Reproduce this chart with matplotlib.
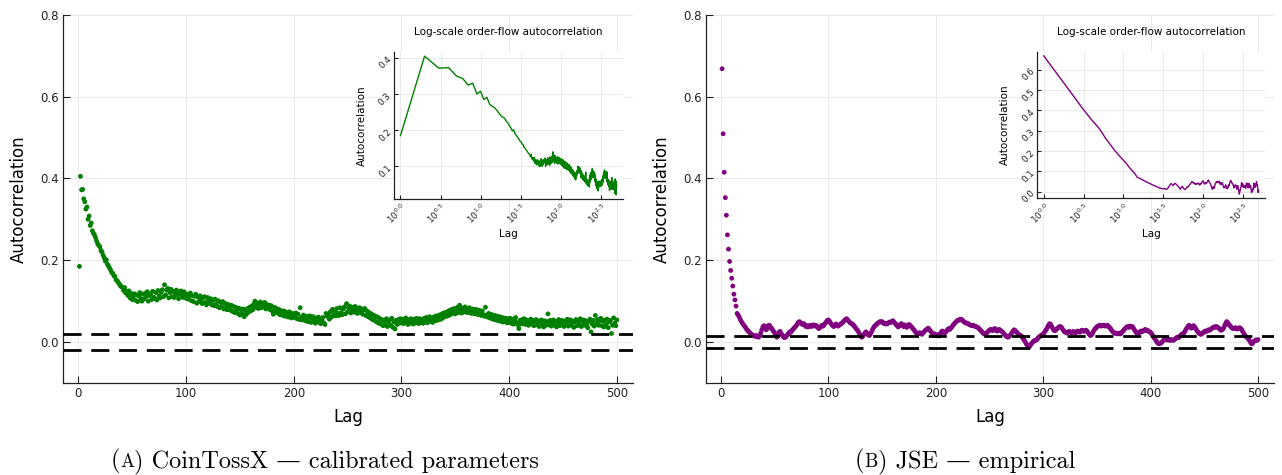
import matplotlib
matplotlib.use("Agg")
import matplotlib.pyplot as plt
import numpy as np
from matplotlib.ticker import FixedLocator, FixedFormatter, NullLocator

# ---------------------------------------------------------------------------
# Order-flow autocorrelation, lags 1..500
# ---------------------------------------------------------------------------
lags = np.arange(1, 501)

acf_cointossx = [
    0.185, 0.405, 0.372, 0.373, 0.350, 0.343, 0.325, 0.330, 0.300, 0.308, 0.285, 0.291, 0.272, 0.266, 0.262, 0.255, 0.247, 0.240, 0.236, 0.233,
    0.224, 0.220, 0.212, 0.206, 0.198, 0.201, 0.190, 0.186, 0.181, 0.176, 0.170, 0.168, 0.162, 0.160, 0.152, 0.150, 0.146, 0.142, 0.138, 0.135,
    0.134, 0.126, 0.133, 0.120, 0.124, 0.114, 0.125, 0.108, 0.119, 0.104, 0.112, 0.118, 0.102, 0.115, 0.099, 0.113, 0.121, 0.106, 0.100, 0.117,
    0.105, 0.119, 0.111, 0.123, 0.100, 0.114, 0.118, 0.104, 0.124, 0.110, 0.106, 0.121, 0.103, 0.126, 0.113, 0.108, 0.122, 0.128, 0.111, 0.140,
    0.115, 0.127, 0.131, 0.108, 0.121, 0.129, 0.111, 0.124, 0.109, 0.119, 0.127, 0.116, 0.106, 0.120, 0.125, 0.114, 0.109, 0.123, 0.118, 0.107,
    0.117, 0.105, 0.114, 0.120, 0.101, 0.113, 0.099, 0.112, 0.117, 0.095, 0.110, 0.099, 0.113, 0.103, 0.094, 0.108, 0.111, 0.097, 0.091, 0.109,
    0.104, 0.095, 0.106, 0.091, 0.102, 0.089, 0.105, 0.093, 0.087, 0.101, 0.084, 0.097, 0.087, 0.099, 0.081, 0.095, 0.085, 0.079, 0.092, 0.083,
    0.078, 0.090, 0.075, 0.087, 0.072, 0.085, 0.078, 0.070, 0.083, 0.066, 0.079, 0.069, 0.081, 0.062, 0.077, 0.068, 0.082, 0.073, 0.085, 0.076,
    0.088, 0.079, 0.093, 0.100, 0.085, 0.095, 0.082, 0.093, 0.098, 0.084, 0.094, 0.086, 0.097, 0.081, 0.092, 0.083, 0.090, 0.079, 0.089, 0.076,
    0.068, 0.085, 0.073, 0.082, 0.071, 0.080, 0.067, 0.077, 0.069, 0.065, 0.076, 0.063, 0.073, 0.066, 0.061, 0.074, 0.064, 0.059, 0.070, 0.062,
    0.060, 0.071, 0.057, 0.068, 0.055, 0.084, 0.060, 0.054, 0.066, 0.056, 0.052, 0.063, 0.050, 0.060, 0.064, 0.048, 0.058, 0.062, 0.051, 0.046,
    0.059, 0.049, 0.061, 0.053, 0.045, 0.055, 0.060, 0.047, 0.043, 0.070, 0.063, 0.068, 0.056, 0.074, 0.061, 0.080, 0.066, 0.076, 0.064, 0.082,
    0.070, 0.065, 0.084, 0.072, 0.067, 0.081, 0.086, 0.069, 0.094, 0.074, 0.083, 0.088, 0.071, 0.081, 0.085, 0.073, 0.087, 0.077, 0.070, 0.080,
    0.084, 0.072, 0.081, 0.068, 0.079, 0.082, 0.065, 0.076, 0.062, 0.072, 0.059, 0.069, 0.055, 0.066, 0.053, 0.063, 0.049, 0.061, 0.046, 0.057,
    0.044, 0.055, 0.040, 0.052, 0.042, 0.057, 0.038, 0.050, 0.054, 0.041, 0.058, 0.036, 0.049, 0.032, 0.053, 0.043, 0.055, 0.046, 0.057, 0.047,
    0.056, 0.045, 0.054, 0.059, 0.047, 0.043, 0.055, 0.046, 0.057, 0.048, 0.044, 0.056, 0.047, 0.058, 0.049, 0.045, 0.057, 0.048, 0.055, 0.046,
    0.058, 0.049, 0.060, 0.047, 0.056, 0.062, 0.050, 0.059, 0.048, 0.061, 0.052, 0.064, 0.053, 0.062, 0.066, 0.055, 0.068, 0.058, 0.071, 0.062,
    0.072, 0.063, 0.075, 0.065, 0.078, 0.068, 0.080, 0.071, 0.082, 0.069, 0.079, 0.085, 0.072, 0.090, 0.081, 0.071, 0.083, 0.074, 0.086, 0.073,
    0.082, 0.072, 0.084, 0.075, 0.070, 0.081, 0.073, 0.069, 0.080, 0.071, 0.067, 0.078, 0.069, 0.065, 0.076, 0.067, 0.063, 0.085, 0.066, 0.061,
    0.070, 0.059, 0.068, 0.057, 0.066, 0.055, 0.065, 0.054, 0.063, 0.052, 0.062, 0.051, 0.060, 0.049, 0.059, 0.050, 0.058, 0.047, 0.057, 0.048,
    0.058, 0.046, 0.056, 0.044, 0.054, 0.060, 0.047, 0.042, 0.033, 0.053, 0.044, 0.055, 0.046, 0.057, 0.043, 0.054, 0.045, 0.041, 0.052, 0.056,
    0.044, 0.053, 0.040, 0.051, 0.055, 0.042, 0.052, 0.038, 0.050, 0.054, 0.043, 0.037, 0.052, 0.041, 0.050, 0.069, 0.042, 0.053, 0.039, 0.049,
    0.054, 0.041, 0.051, 0.037, 0.048, 0.055, 0.040, 0.050, 0.053, 0.042, 0.038, 0.052, 0.043, 0.056, 0.039, 0.050, 0.054, 0.041, 0.051, 0.036,
    0.049, 0.055, 0.040, 0.052, 0.042, 0.057, 0.038, 0.050, 0.054, 0.041, 0.052, 0.043, 0.035, 0.051, 0.056, 0.025, 0.044, 0.053, 0.039, 0.065,
    0.045, 0.055, 0.041, 0.052, 0.058, 0.040, 0.051, 0.037, 0.054, 0.043, 0.056, 0.035, 0.049, 0.053, 0.021, 0.041, 0.059, 0.046, 0.040, 0.054,
]

acf_jse = [
    0.668, 0.509, 0.415, 0.353, 0.310, 0.262, 0.227, 0.197, 0.175, 0.156, 0.137, 0.117, 0.103, 0.088, 0.070, 0.066, 0.061, 0.055, 0.050, 0.046,
    0.042, 0.039, 0.035, 0.031, 0.028, 0.025, 0.022, 0.020, 0.018, 0.016, 0.015, 0.014, 0.016, 0.013, 0.012, 0.015, 0.022, 0.030, 0.037, 0.040,
    0.036, 0.030, 0.033, 0.040, 0.041, 0.037, 0.034, 0.030, 0.026, 0.022, 0.016, 0.012, 0.018, 0.024, 0.026, 0.021, 0.017, 0.013, 0.011, 0.012,
    0.015, 0.018, 0.022, 0.025, 0.024, 0.028, 0.031, 0.034, 0.037, 0.040, 0.044, 0.048, 0.050, 0.047, 0.045, 0.043, 0.045, 0.042, 0.038, 0.040,
    0.037, 0.039, 0.041, 0.038, 0.040, 0.042, 0.039, 0.041, 0.040, 0.036, 0.033, 0.035, 0.038, 0.041, 0.039, 0.042, 0.046, 0.049, 0.053, 0.054,
    0.051, 0.047, 0.043, 0.040, 0.038, 0.041, 0.044, 0.042, 0.039, 0.041, 0.043, 0.045, 0.047, 0.050, 0.053, 0.055, 0.057, 0.054, 0.051, 0.048,
    0.046, 0.044, 0.043, 0.039, 0.036, 0.032, 0.029, 0.025, 0.020, 0.015, 0.012, 0.014, 0.018, 0.022, 0.025, 0.021, 0.018, 0.016, 0.019, 0.024,
    0.030, 0.035, 0.039, 0.041, 0.044, 0.046, 0.048, 0.050, 0.049, 0.050, 0.047, 0.045, 0.046, 0.044, 0.045, 0.047, 0.049, 0.048, 0.050, 0.052,
    0.049, 0.046, 0.043, 0.040, 0.037, 0.040, 0.043, 0.045, 0.041, 0.038, 0.042, 0.039, 0.036, 0.040, 0.043, 0.041, 0.038, 0.035, 0.032, 0.029,
    0.025, 0.022, 0.020, 0.021, 0.023, 0.021, 0.019, 0.022, 0.025, 0.028, 0.030, 0.032, 0.034, 0.031, 0.027, 0.024, 0.021, 0.018, 0.020, 0.017,
    0.016, 0.018, 0.015, 0.019, 0.024, 0.027, 0.025, 0.022, 0.024, 0.027, 0.030, 0.033, 0.031, 0.034, 0.037, 0.041, 0.044, 0.047, 0.050, 0.052,
    0.053, 0.055, 0.056, 0.055, 0.053, 0.050, 0.048, 0.047, 0.046, 0.045, 0.043, 0.042, 0.041, 0.040, 0.041, 0.039, 0.038, 0.037, 0.036, 0.034,
    0.031, 0.028, 0.025, 0.022, 0.020, 0.019, 0.021, 0.024, 0.027, 0.029, 0.031, 0.030, 0.028, 0.031, 0.033, 0.030, 0.027, 0.029, 0.031, 0.029,
    0.027, 0.025, 0.022, 0.019, 0.016, 0.014, 0.012, 0.013, 0.016, 0.019, 0.023, 0.027, 0.030, 0.028, 0.025, 0.022, 0.019, 0.017, 0.016, 0.014,
    0.010, 0.006, 0.002, -0.003, -0.007, -0.010, -0.012, -0.008, -0.004, -0.001, 0.002, 0.004, 0.004, 0.006, 0.009, 0.012, 0.014, 0.016, 0.018, 0.020,
    0.023, 0.027, 0.031, 0.036, 0.041, 0.045, 0.043, 0.038, 0.033, 0.029, 0.028, 0.030, 0.033, 0.035, 0.037, 0.038, 0.036, 0.032, 0.028, 0.025,
    0.024, 0.022, 0.024, 0.026, 0.025, 0.023, 0.024, 0.026, 0.024, 0.022, 0.025, 0.027, 0.026, 0.024, 0.027, 0.029, 0.028, 0.026, 0.028, 0.029,
    0.026, 0.022, 0.019, 0.016, 0.018, 0.022, 0.027, 0.031, 0.034, 0.037, 0.039, 0.040, 0.041, 0.039, 0.040, 0.041, 0.040, 0.039, 0.040, 0.041,
    0.038, 0.035, 0.032, 0.028, 0.025, 0.023, 0.021, 0.022, 0.020, 0.021, 0.022, 0.020, 0.023, 0.026, 0.029, 0.032, 0.035, 0.037, 0.038, 0.036,
    0.039, 0.037, 0.038, 0.034, 0.030, 0.026, 0.022, 0.020, 0.022, 0.025, 0.027, 0.025, 0.027, 0.029, 0.031, 0.028, 0.029, 0.027, 0.025, 0.024,
    0.020, 0.016, 0.012, 0.008, 0.004, 0.000, -0.003, -0.004, -0.003, -0.002, 0.001, 0.004, 0.006, 0.007, 0.005, 0.008, 0.007, 0.004, 0.006, 0.005,
    0.004, 0.006, 0.008, 0.010, 0.012, 0.011, 0.013, 0.016, 0.019, 0.020, 0.022, 0.026, 0.031, 0.035, 0.039, 0.041, 0.038, 0.034, 0.036, 0.040,
    0.037, 0.033, 0.029, 0.025, 0.022, 0.020, 0.019, 0.021, 0.023, 0.025, 0.027, 0.026, 0.028, 0.030, 0.029, 0.031, 0.033, 0.035, 0.037, 0.036,
    0.038, 0.037, 0.035, 0.033, 0.030, 0.029, 0.031, 0.034, 0.040, 0.046, 0.050, 0.047, 0.043, 0.040, 0.037, 0.034, 0.033, 0.034, 0.035, 0.033,
    0.032, 0.034, 0.035, 0.033, 0.030, 0.025, 0.020, 0.016, 0.013, 0.011, 0.008, 0.004, 0.000, -0.004, -0.003, 0.001, 0.003, 0.005, 0.004, 0.006,
]

# 95% confidence bands (+/- 1.96 / sqrt(N))
conf_cointossx = 0.0196
conf_jse = 0.014

main_xticks = [0, 100, 200, 300, 400, 500]
main_yticks = [0.0, 0.2, 0.4, 0.6, 0.8]
inset_log_ticks = [0.0, 0.5, 1.0, 1.5, 2.0, 2.5]
inset_yticks_cointossx = [0.1, 0.2, 0.3, 0.4]
inset_yticks_jse = [0.0, 0.1, 0.2, 0.3, 0.4, 0.5, 0.6]

panel_colors = ["#008000", "#800080"]
caption_letters = ["A", "B"]
caption_texts = ["CoinTossX \u2014 calibrated parameters", "JSE \u2014 empirical"]

GRID = "#e6e6e6"
W, H = 1282, 475

fig = plt.figure(figsize=(W / 100, H / 100), dpi=100)
fig.patch.set_facecolor("white")


def px_rect(x0, y0, x1, y1):
    """Convert a pixel box (top-left origin) to figure-fraction rect."""
    return [x0 / W, 1 - y1 / H, (x1 - x0) / W, (y1 - y0) / H]


def style_axes(ax, tick_size, tick_len):
    for side in ("top", "right"):
        ax.spines[side].set_visible(False)
    for side in ("left", "bottom"):
        ax.spines[side].set_color("#222222")
        ax.spines[side].set_linewidth(0.9)
    ax.tick_params(direction="in", length=tick_len, width=0.8,
                   labelsize=tick_size, colors="#222222", pad=3)
    ax.grid(True, color=GRID, linewidth=0.6)
    ax.set_axisbelow(True)


def widened(lo, hi, frac=0.03):
    span = hi - lo
    return lo - frac * span, hi + frac * span


main_boxes = [(63.3, 14.7, 633.0, 383.0), (706.0, 14.7, 1274.0, 383.0)]
inset_boxes = [(394.0, 52.0, 623.0, 199.0), (1037.3, 51.7, 1265.0, 198.3)]
series = [acf_cointossx, acf_jse]
confs = [conf_cointossx, conf_jse]
inset_yticks = [inset_yticks_cointossx, inset_yticks_jse]

for i in range(2):
    vals = np.asarray(series[i])
    color = panel_colors[i]

    # ----- main scatter panel -----
    ax = fig.add_axes(px_rect(*main_boxes[i]))
    style_axes(ax, 8.5, 5)
    ax.scatter(lags, vals, s=12, color=color, edgecolors="none", zorder=3)
    ax.axhline(confs[i], color="black", lw=2.0, ls=(0, (6.5, 3.5)), zorder=4)
    ax.axhline(-confs[i], color="black", lw=2.0, ls=(0, (6.5, 3.5)), zorder=4)
    ax.set_xlim(*widened(lags[0], lags[-1]))
    ax.set_ylim(-0.1, 0.8)
    ax.xaxis.set_major_locator(FixedLocator(main_xticks))
    ax.yaxis.set_major_locator(FixedLocator(main_yticks))
    ax.set_yticklabels([f"{t:.1f}" for t in main_yticks])
    ax.set_xlabel("Lag", fontsize=12, labelpad=6)
    ax.set_ylabel("Autocorrelation", fontsize=12, labelpad=9)

    # ----- log-scale inset -----
    ins = fig.add_axes(px_rect(*inset_boxes[i]))
    ins.set_facecolor("white")
    style_axes(ins, 6.3, 3)
    ins.plot(lags, vals, color=color, lw=1.0)
    ins.set_xscale("log")
    lo, hi = widened(0.0, np.log10(lags[-1]))
    ins.set_xlim(10 ** lo, 10 ** hi)
    ins.set_ylim(*widened(vals.min(), vals.max()))
    ins.xaxis.set_major_locator(FixedLocator([10 ** e for e in inset_log_ticks]))
    ins.xaxis.set_major_formatter(
        FixedFormatter([rf"$10^{{{e:.1f}}}$" for e in inset_log_ticks]))
    ins.xaxis.set_minor_locator(NullLocator())
    ins.yaxis.set_major_locator(FixedLocator(inset_yticks[i]))
    ins.set_yticklabels([f"{t:.1f}" for t in inset_yticks[i]])
    for lab in ins.get_xticklabels():
        lab.set_rotation(45)
        lab.set_ha("right")
        lab.set_va("top")
        lab.set_rotation_mode("anchor")
    for lab in ins.get_yticklabels():
        lab.set_rotation(45)
        lab.set_ha("right")
        lab.set_va("center")
        lab.set_rotation_mode("anchor")
    ins.tick_params(axis="x", pad=2)
    ins.set_xlabel("Lag", fontsize=7.5, labelpad=2)
    ins.set_ylabel("Autocorrelation", fontsize=7.5, labelpad=7)
    ins.set_title("Log-scale order-flow autocorrelation", fontsize=7.5, pad=12)


# ----- sub-figure captions with a small-caps panel letter -----
fig.canvas.draw()
renderer = fig.canvas.get_renderer()
cap_font = ["cmr10", "DejaVu Serif"]
caption_centers = [325.0, 965.0]
caption_y = 1 - 467.0 / H

for i in range(2):
    pieces = [("(", 17.5), (caption_letters[i], 13.5),
              (") " + caption_texts[i], 17.5)]
    texts = []
    for s, size in pieces:
        t = fig.text(0, caption_y, s, fontsize=size, family=cap_font,
                     va="baseline", ha="left")
        texts.append(t)
    widths = [t.get_window_extent(renderer).width for t in texts]
    x = caption_centers[i] - sum(widths) / 2
    for t, w in zip(texts, widths):
        t.set_x(x / W)
        x += w

fig.savefig("out.png", dpi=100, facecolor="white")
